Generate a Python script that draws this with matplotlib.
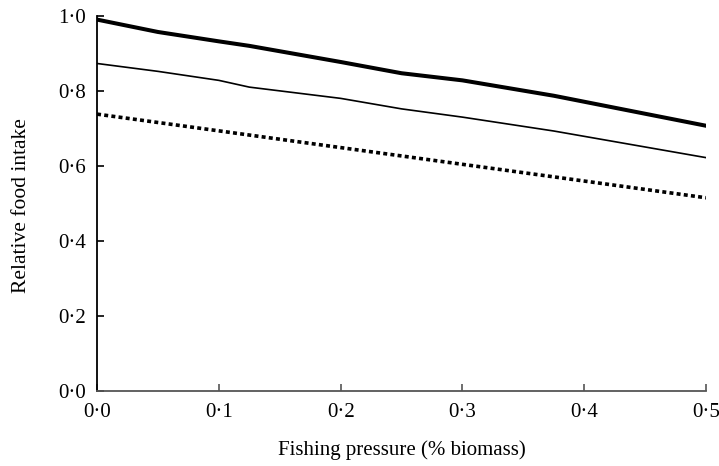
import numpy as np
import matplotlib
matplotlib.use("Agg")
from matplotlib import pyplot as plt

# Data
x_thick = [0.0, 0.05, 0.1, 0.125, 0.2, 0.25, 0.3, 0.375, 0.5]
y_thick = [0.990, 0.957, 0.932, 0.920, 0.877, 0.847, 0.828, 0.787, 0.707]

x_thin = [0.0, 0.05, 0.1, 0.125, 0.2, 0.25, 0.3, 0.375, 0.5]
y_thin = [0.873, 0.852, 0.828, 0.810, 0.780, 0.752, 0.730, 0.693, 0.622]

x_dot = [0.0, 0.5]
y_dot = [0.738, 0.515]

x_ticks = [0.0, 0.1, 0.2, 0.3, 0.4, 0.5]
x_ticklabels = ["0·0", "0·1", "0·2", "0·3", "0·4", "0·5"]
y_ticks = [0.0, 0.2, 0.4, 0.6, 0.8, 1.0]
y_ticklabels = ["0·0", "0·2", "0·4", "0·6", "0·8", "1·0"]

plt.rcParams['font.family'] = ['Liberation Serif', 'DejaVu Serif']

fig = plt.figure(figsize=(7.19, 4.66), dpi=100)
ax = fig.add_axes([0.135, 0.161, 0.847, 0.805])

ax.plot(x_thick, y_thick, color="black", lw=2.9, solid_joinstyle="round")
ax.plot(x_thin, y_thin, color="black", lw=1.2)
ax.plot(x_dot, y_dot, color="black", lw=2.6, linestyle=(0, (1.1, 0.9)),
        dash_capstyle="butt")

ax.set_xlim(0, 0.5)
ax.set_ylim(0, 1.0)
ax.set_xticks(x_ticks)
ax.set_xticklabels(x_ticklabels)
ax.set_yticks(y_ticks)
ax.set_yticklabels(y_ticklabels)
ax.tick_params(direction="in", length=5, width=1.2, labelsize=15)
ax.tick_params(axis="x", pad=9, color="#555555")
ax.tick_params(axis="y", pad=8)

for s in ["top", "right"]:
    ax.spines[s].set_visible(False)
ax.spines["left"].set_linewidth(1.3)
ax.spines["bottom"].set_linewidth(1.3)
ax.spines["bottom"].set_color("#555555")

ax.set_xlabel("Fishing pressure (% biomass)", fontsize=15)
ax.set_ylabel("Relative food intake", fontsize=15.5)
ax.xaxis.set_label_coords(0.5, -0.131)
ax.yaxis.set_label_coords(-0.108, 0.495)

fig.savefig("out.png", dpi=100)
